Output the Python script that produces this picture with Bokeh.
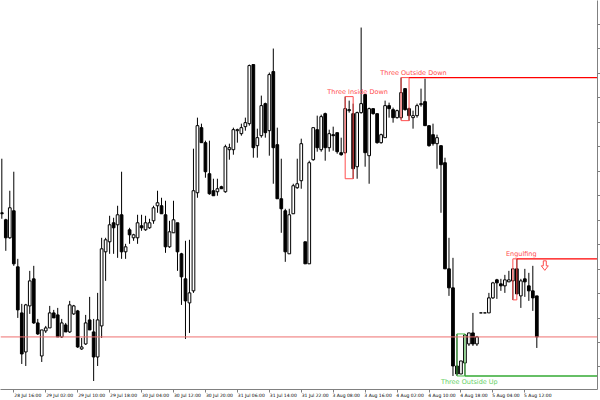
from bokeh.plotting import figure
from bokeh.models import ColumnDataSource, FixedTicker, Range1d, Span
from bokeh.core.properties import value
from bokeh.embed import file_html
from bokeh.resources import INLINE

# hourly candles, prices (chart units)
open_ = [188, 181, 163, 190, 134, 88, 49, 95, 122, 78,
         45, 70, 73, 88, 86, 64, 76, 69, 87, 90,
         52, 57, 81, 69, 44, 75, 149, 159, 178, 176,
         186, 149, 171, 163, 163, 175, 171, 173, 180, 195,
         195, 186, 154, 168, 178, 147, 122, 98, 110, 208,
         273, 258, 227, 210, 209, 214, 209, 251, 251, 270,
         267, 274, 277, 336, 255, 265, 297, 270, 329, 256,
         202, 190, 147, 187, 213, 220, 159, 137, 241, 271,
         251, 287, 253, 266, 268, 248, 248, 290, 287, 234,
         288, 306, 245, 292, 287, 258, 263, 295, 291, 283,
         283, 312, 292, 283, 285, 296, 299, 275, 266, 257,
         255, 238, 132, 113, 35, 27, 38, 57, 68, 57,
         88, 88, 88, 103, 121, 117, 115, 119, 120, 132,
         105, 122, 115, 110, 105]
high = [242, 182, 210, 229, 142, 97, 97, 130, 135, 82,
        71, 75, 95, 91, 93, 82, 78, 100, 96, 91,
        63, 86, 104, 82, 108, 163, 163, 185, 183, 195,
        229, 157, 173, 167, 186, 186, 185, 182, 195, 210,
        203, 200, 180, 200, 178, 148, 160, 161, 252, 283,
        277, 260, 260, 222, 222, 215, 256, 257, 273, 272,
        277, 283, 336, 336, 272, 305, 298, 328, 352, 273,
        242, 192, 192, 217, 242, 262, 159, 240, 273, 285,
        286, 288, 271, 274, 268, 263, 304, 300, 297, 289,
        373, 306, 293, 292, 287, 267, 300, 298, 293, 291,
        323, 312, 293, 290, 297, 312, 322, 275, 277, 266,
        255, 243, 163, 143, 67, 40, 67, 68, 88, 65,
        88, 88, 108, 119, 122, 122, 126, 130, 132, 142,
        122, 132, 128, 135, 105]
low = [182, 150, 162, 135, 83, 37, 35, 87, 77, 66,
       39, 68, 73, 83, 64, 63, 69, 68, 86, 53,
       51, 56, 71, 20, 35, 63, 120, 147, 147, 143,
       142, 142, 157, 160, 157, 170, 170, 172, 177, 188,
       187, 148, 153, 168, 130, 96, 62, 68, 108, 203,
       258, 223, 206, 205, 205, 212, 208, 241, 246, 258,
       265, 270, 275, 243, 243, 263, 263, 245, 217, 202,
       168, 139, 147, 187, 212, 212, 137, 137, 240, 249,
       249, 240, 249, 250, 247, 245, 247, 288, 222, 222,
       287, 234, 217, 286, 257, 257, 263, 283, 278, 282,
       281, 290, 280, 272, 283, 294, 275, 254, 255, 232,
       188, 132, 105, 25, 25, 27, 25, 55, 55, 55,
       88, 88, 88, 102, 102, 110, 108, 119, 101, 107,
       93, 104, 100, 90, 53]
close = [187, 163, 193, 137, 91, 47, 96, 120, 78, 67,
         71, 73, 88, 83, 64, 78, 69, 96, 95, 54,
         54, 78, 71, 44, 81, 152, 161, 176, 173, 186,
         149, 154, 166, 166, 178, 173, 178, 178, 193, 198,
         187, 154, 169, 181, 149, 124, 100, 108, 210, 275,
         258, 229, 207, 205, 212, 212, 254, 253, 271, 271,
         273, 278, 335, 253, 263, 295, 268, 326, 253, 202,
         192, 149, 186, 215, 217, 257, 137, 238, 273, 253,
         284, 253, 267, 265, 249, 246, 292, 291, 232, 288,
         297, 248, 292, 287, 258, 266, 295, 292, 283, 290,
         308, 291, 285, 285, 295, 297, 275, 255, 257, 263,
         236, 132, 113, 35, 27, 40, 66, 68, 57, 64,
         88, 88, 103, 118, 118, 115, 121, 121, 132, 107,
         120, 119, 110, 103, 64]

# time axis: bar index of each label and its text
time_ticks = [3, 11, 19, 27, 35, 43, 51, 59, 67, 75, 83, 91, 99, 107, 115, 123, 131]
time_labels = ["28 Jul 16:00", "29 Jul 02:00", "29 Jul 10:00", "29 Jul 18:00",
               "30 Jul 04:00", "30 Jul 12:00", "30 Jul 20:00", "31 Jul 06:00",
               "31 Jul 14:00", "31 Jul 22:00", "3 Aug 08:00", "3 Aug 16:00",
               "4 Aug 02:00", "4 Aug 10:00", "4 Aug 18:00", "5 Aug 04:00",
               "5 Aug 12:00"]

# candlestick patterns: name, first bar, last bar, bullish?, level line?
pattern_names = ["Three Inside Down", "Three Outside Down", "Engulfing", "Three Outside Up"]
pattern_first = [86, 100, 128, 114]
pattern_last = [88, 102, 129, 116]
pattern_bullish = [False, False, False, True]
pattern_line = [False, True, True, True]
arrow_bar = 136  # sell signal arrow after the engulfing

RED_TXT = "#ff4d4d"
GREEN_TXT = "#5fcf5f"

idx = list(range(len(close)))
src = ColumnDataSource(dict(
    x=idx, high=high, low=low,
    top=[max(o, c) for o, c in zip(open_, close)],
    bottom=[min(o, c) for o, c in zip(open_, close)],
    fill=["white" if c >= o else "black" for o, c in zip(open_, close)],
))

p = figure(width=600, height=400, x_range=Range1d(-0.33, 149.2), y_range=Range1d(11.5, 400),
           y_axis_location="right", output_backend="svg", toolbar_location=None,
           min_border_left=0, min_border_top=0, min_border_right=0, min_border_bottom=0)
p.xgrid.visible = False
p.ygrid.visible = False
p.outline_line_color = None
p.background_fill_color = "white"
p.border_fill_color = "white"

# candles
p.segment(x0="x", y0="high", x1="x", y1="low", source=src, line_color="black", line_width=1)
p.vbar(x="x", width=0.68, top="top", bottom="bottom", source=src,
       fill_color="fill", line_color="black", line_width=1)

# bid line
p.add_layout(Span(location=close[-1], dimension="width", line_color="#ee7070", line_width=1))

for name, a, b, bull, has_line in zip(pattern_names, pattern_first, pattern_last,
                                      pattern_bullish, pattern_line):
    hi = max(high[a:b + 1])
    lo = min(low[a:b + 1])
    txt_col = GREEN_TXT if bull else RED_TXT
    box_col = "#4cc04c" if bull else "#ff4d4d"
    p.quad(left=[a], right=[b], top=[hi], bottom=[lo], fill_color=None,
           line_color=box_col, line_width=1)
    if has_line:
        p.ray(x=[b], y=[lo if bull else hi], length=0, angle=0,
              line_color="#33aa33" if bull else "#ff0000", line_width=1.3)
    if bull:
        p.text(x=[b + 1.1], y=[lo - 2], text=[name], text_align="center", text_baseline="top",
               text_color=txt_col, text_font=value("DejaVu Sans"), text_font_size="6.5px")
    else:
        p.text(x=[b + 1.1], y=[hi + 1], text=[name], text_align="center", text_baseline="bottom",
               text_color=txt_col, text_font=value("DejaVu Sans"), text_font_size="6.5px")

# hollow down arrow under the engulfing line
lvl = max(high[pattern_first[2]:pattern_last[2] + 1]) - 2
shape = [(-1.5, 0), (1.5, 0), (1.5, 5), (3.5, 5), (0, 9.5), (-3.5, 5), (-1.5, 5)]
p.patch(x=[arrow_bar + dx / 4 for dx, dy in shape], y=[lvl - dy for dx, dy in shape],
        fill_color="white", line_color=RED_TXT, line_width=1)

# time axis: tick marks at the bar, label just to the right of it
label_pos = [t + (2 + len(s)) / 4 for t, s in zip(time_ticks, time_labels)]
xa = p.xaxis[0]
xa.ticker = FixedTicker(ticks=label_pos, minor_ticks=time_ticks)
xa.major_label_overrides = {pos: s for pos, s in zip(label_pos, time_labels)}
xa.major_tick_out = 0
xa.major_tick_in = 0
xa.minor_tick_out = 3
xa.minor_tick_in = 0
xa.axis_line_color = "#808080"
xa.minor_tick_line_color = "#808080"
xa.major_label_standoff = 0
xa.major_label_text_font = "DejaVu Sans"
xa.major_label_text_font_size = "4.5px"
xa.major_label_text_color = "black"

# price axis on the right (labels fall outside the picture)
ya = p.yaxis[0]
ya.ticker = FixedTicker(ticks=[34 + 24.43 * k for k in range(15)], minor_ticks=[])
ya.major_tick_out = 3
ya.major_tick_in = 0
ya.minor_tick_out = 0
ya.axis_line_color = "#808080"
ya.major_tick_line_color = "#808080"
ya.major_label_text_font_size = "0px"
ya.major_label_text_alpha = 0
ya.major_label_standoff = 0

open("out.html", "w").write(file_html(p, INLINE))
